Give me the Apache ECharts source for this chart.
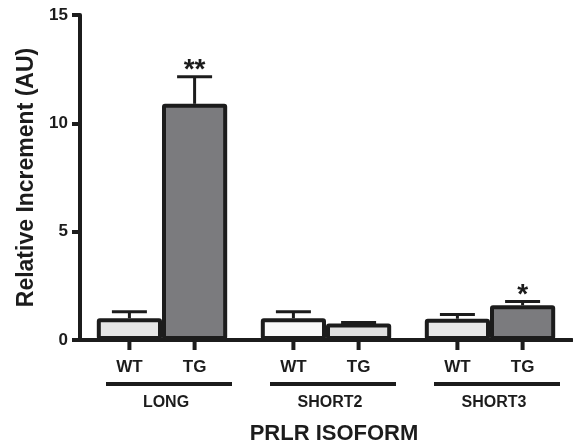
<!DOCTYPE html>
<html>
<head>
<meta charset="utf-8">
<script src="https://cdn.jsdelivr.net/npm/echarts@6/dist/echarts.min.js"></script>
<style>html,body{margin:0;padding:0;background:#fff}#c{width:573px;height:446px}</style>
</head>
<body>
<div id="c"></div>
<script>
const groups = ['LONG', 'SHORT2', 'SHORT3'];
const seriesNames = ['WT', 'TG'];
const wtMean = [1.0, 1.0, 0.98];
const wtSem = [0.3, 0.3, 0.2];
const tgMean = [10.9, 0.76, 1.6];
const tgSem = [1.25, 0.05, 0.18];
const wtStars = ['', '', ''];
const tgStars = ['**', '', '*'];
const wtColors = ['#e6e6e6', '#f9f9f9', '#e8e8e8'];
const tgColors = ['#7b7b7e', '#e0e0e0', '#7b7b7e'];
const yTicks = [0, 5, 10, 15];

const font = 'Liberation Sans, Arial, Helvetica, sans-serif';
const ink = '#1c1c1c';
const catGap = 0.205;

const chart = echarts.init(document.getElementById('c'), null, {renderer: 'canvas'});

function barLabel(name) {
  return {
    show: true,
    position: ['50%', '100%'],
    align: 'center',
    verticalAlign: 'top',
    formatter: '{t|}\n{n|' + name + '}',
    rich: {
      t: {width: 4, height: 10, backgroundColor: ink, lineHeight: 10},
      n: {fontFamily: font, fontWeight: 'bold', fontSize: 17, color: ink, lineHeight: 20, padding: [15, 0, 0, 0]}
    }
  };
}

const errData = [];
groups.forEach((g, i) => {
  errData.push([i, wtMean[i], wtSem[i], 0, wtStars[i]]);
  errData.push([i, tgMean[i], tgSem[i], 1, tgStars[i]]);
});

chart.setOption({
  animation: false,
  grid: {left: 80, right: 1, top: 15, bottom: 106, containLabel: false, outerBoundsMode: 'none'},
  xAxis: {
    type: 'category',
    data: groups,
    name: 'PRLR ISOFORM',
    nameLocation: 'middle',
    nameGap: 83,
    nameTextStyle: {fontFamily: font, fontWeight: 'bold', fontSize: 22, color: ink, padding: [0, 0, 0, 16]},
    axisLine: {lineStyle: {color: ink, width: 4}},
    axisTick: {show: false},
    axisLabel: {
      margin: 42,
      interval: 0,
      formatter: v => '{s|}{l|}\n{p|}{n|' + v + '}',
      rich: {
        s: {width: 14, height: 4, lineHeight: 4},
        l: {width: 126, height: 4, backgroundColor: ink, lineHeight: 4},
        p: {width: 8, height: 4},
        n: {fontFamily: font, fontWeight: 'bold', fontSize: 16, color: ink, lineHeight: 20, padding: [14, 0, 0, 0]}
      }
    },
    splitLine: {show: false}
  },
  yAxis: {
    type: 'value',
    min: 0, max: 15, interval: 5,
    name: 'Relative Increment (AU)',
    nameLocation: 'middle',
    nameGap: 41,
    nameTextStyle: {fontFamily: font, fontWeight: 'bold', fontSize: 23, color: ink},
    axisLine: {show: true, lineStyle: {color: ink, width: 4}},
    axisTick: {show: true, length: 8, lineStyle: {color: ink, width: 4}},
    axisLabel: {margin: 12, fontFamily: font, fontWeight: 'bold', fontSize: 17, color: ink,
      formatter: v => yTicks.indexOf(v) >= 0 ? String(v) : ''},
    splitLine: {show: false}
  },
  series: [
    {
      name: seriesNames[0], type: 'bar', barGap: '0%', barCategoryGap: (catGap * 100) + '%',
      data: wtMean.map((v, i) => ({value: v, itemStyle: {color: wtColors[i]}})),
      itemStyle: {borderColor: ink, borderWidth: 4, borderRadius: 1},
      label: barLabel(seriesNames[0]), z: 2
    },
    {
      name: seriesNames[1], type: 'bar', barGap: '0%', barCategoryGap: (catGap * 100) + '%',
      data: tgMean.map((v, i) => ({value: v, itemStyle: {color: tgColors[i]}})),
      itemStyle: {borderColor: ink, borderWidth: 4, borderRadius: 1},
      label: barLabel(seriesNames[1]), z: 2
    },
    {
      type: 'custom', z: 5,
      data: errData,
      renderItem: (params, api) => {
        const cat = api.value(0), mean = api.value(1), err = api.value(2), s = api.value(3);
        const star = errData[params.dataIndex][4];
        const band = api.size([1, 0])[0];
        const bw = band * (1 - catGap) / 2;
        const x = api.coord([cat, 0])[0] + (s === 0 ? -bw / 2 : bw / 2);
        const yTop = api.coord([cat, mean])[1];
        const yErr = api.coord([cat, mean + err])[1];
        const half = 17.5;
        const children = [
          {type: 'line', shape: {x1: x, y1: yTop, x2: x, y2: yErr}, style: {stroke: ink, lineWidth: 3}},
          {type: 'line', shape: {x1: x - half, y1: yErr, x2: x + half, y2: yErr}, style: {stroke: ink, lineWidth: 3}}
        ];
        if (star) {
          children.push({type: 'text', style: {text: star, x: x, y: yErr + 8, align: 'center', verticalAlign: 'bottom',
            font: 'bold 28px ' + font, fill: ink}});
        }
        return {type: 'group', children: children};
      }
    }
  ]
});
</script>
</body>
</html>
